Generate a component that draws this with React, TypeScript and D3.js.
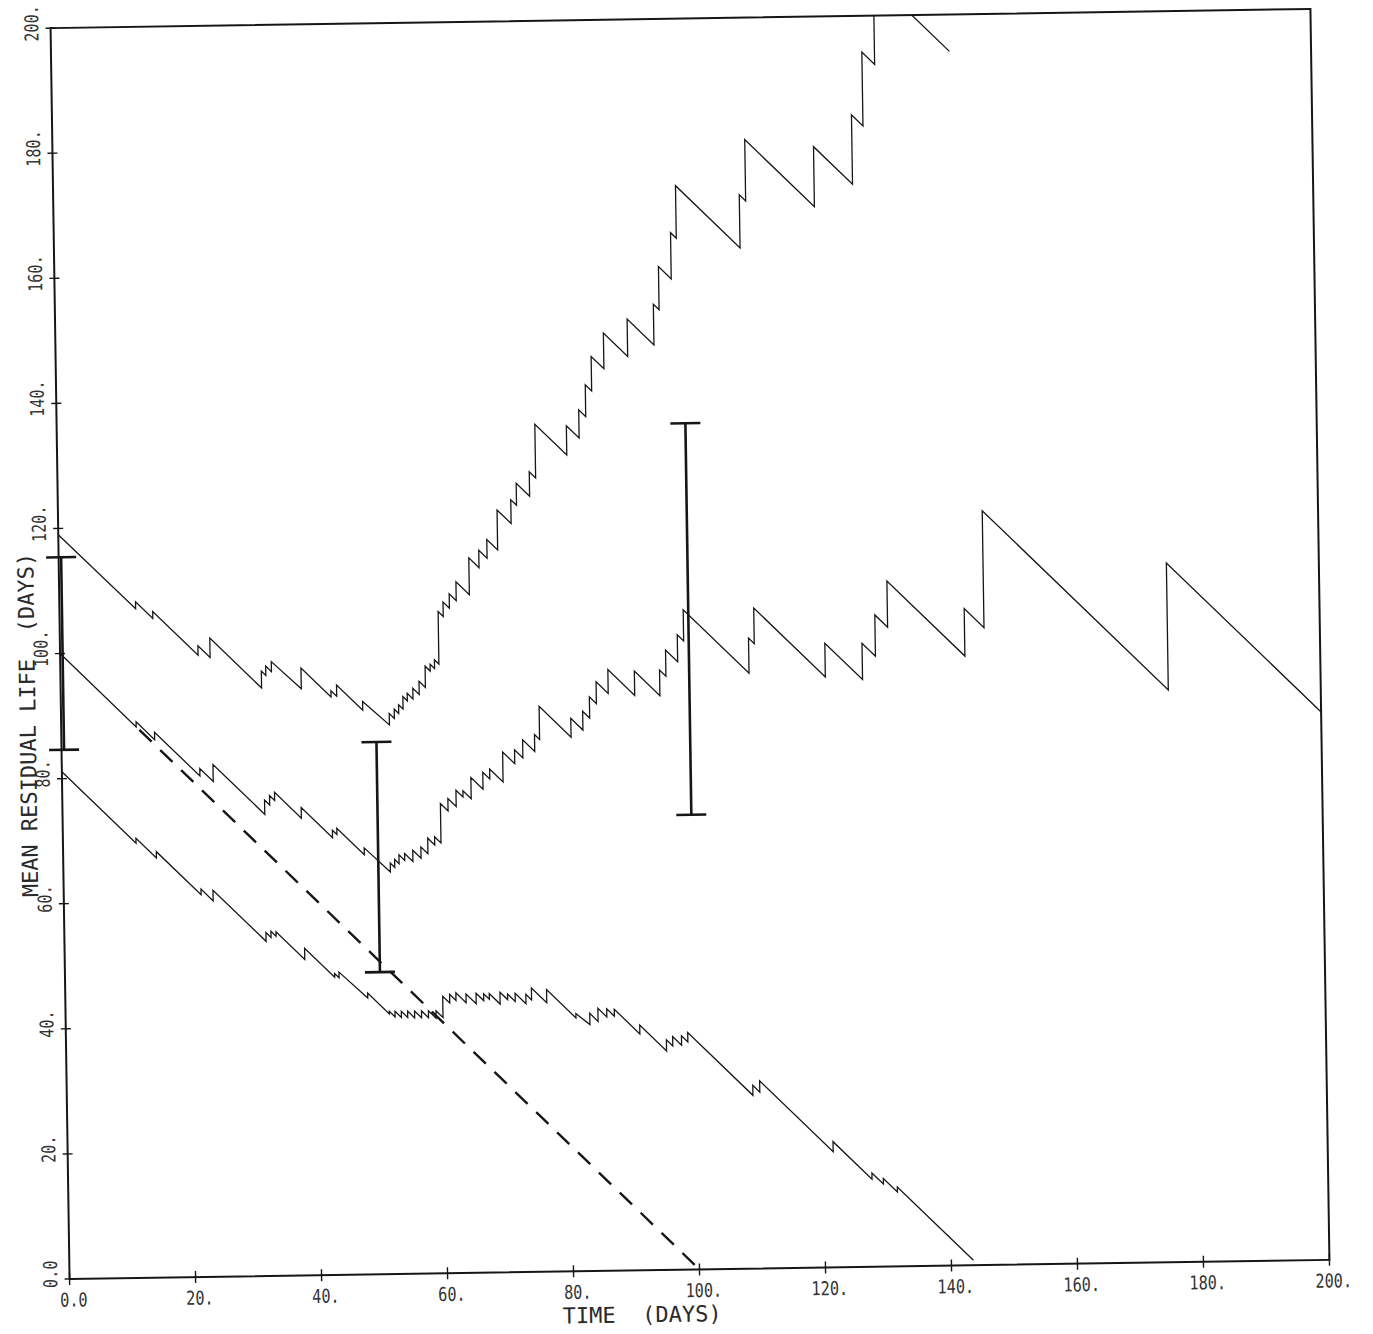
import * as d3 from 'd3'

type Pt = [number, number]

// upper curve (t, mean residual life); vertical pairs are the jumps
const upperCurve: Pt[] = [
  [0, 119], [12.1, 107.0], [12.1, 108.1], [14.8, 105.4], [14.8, 106.5],
  [21.9, 99.4], [21.9, 100.9], [23.8, 99.0], [23.8, 102.1], [31.9, 94.0], [31.9, 96.7],
  [32.6, 96.0], [32.6, 97.5], [33.5, 96.6], [33.5, 98.2], [38.2, 93.8], [38.2, 97.1],
  [42.9, 92.4], [42.9, 93.4], [43.8, 92.5], [43.8, 94.3], [47.9, 90.2], [47.9, 91.6],
  [52.1, 87.8], [52.1, 89.6], [52.9, 88.8], [52.9, 90.3], [53.6, 89.6], [53.6, 91.0],
  [54.3, 90.3], [54.3, 92.3], [55.0, 91.6], [55.0, 92.8], [55.9, 91.9], [55.9, 93.6],
  [56.9, 92.6], [56.9, 94.7], [57.9, 93.7], [57.9, 97.1], [58.7, 96.3], [58.7, 97.4],
  [59.4, 96.7], [59.4, 98.1], [60.1, 97.4], [60.1, 105.8], [60.9, 105.0], [60.9, 107.3],
  [61.9, 106.3], [61.9, 108.6], [63.0, 107.5], [63.0, 110.5], [65.1, 108.4], [65.1, 114.3],
  [66.7, 112.7], [66.7, 115.5], [68.0, 114.2], [68.0, 117.2], [69.7, 115.5], [69.7, 121.9],
  [71.9, 119.7], [71.9, 123.5], [72.8, 122.6], [72.8, 126.1], [74.9, 124.0], [74.9, 127.9],
  [75.9, 126.9], [75.9, 135.5], [80.9, 130.5], [80.9, 135.2], [82.9, 133.2], [82.9, 137.7],
  [84.0, 136.6], [84.0, 141.7], [85.0, 140.7], [85.0, 146.2], [87.0, 144.2], [87.0, 149.9],
  [90.8, 146.1], [90.8, 152.1], [95.0, 147.9], [95.0, 154.4], [95.9, 153.5], [95.9, 160.4],
  [97.9, 158.4], [97.9, 165.8], [98.8, 164.9], [98.8, 173.3], [108.9, 163.2], [108.9, 171.7],
  [109.9, 170.7], [109.9, 180.5], [120.8, 169.6], [120.8, 179.2], [126.9, 173.1], [126.9, 184.2],
  [128.7, 182.4], [128.7, 194.2], [130.7, 192.2], [130.7, 206.0], [142.6, 194.1],
]

const middleCurve: Pt[] = [
  [0, 100], [11.9, 88.1], [11.9, 88.9], [14.8, 86.0], [14.8, 87.2], [21.9, 80.1], [21.9, 81.3],
  [24.0, 79.2], [24.0, 81.9], [32.1, 73.8], [32.1, 76.1], [32.9, 75.3], [32.9, 76.8],
  [33.7, 76.0], [33.7, 77.3], [37.9, 73.1], [37.9, 74.8], [42.8, 69.9], [42.8, 71.1],
  [43.5, 70.4], [43.5, 71.4], [47.8, 67.1], [47.8, 68.2], [51.9, 64.3], [51.9, 65.7],
  [52.6, 65.0], [52.6, 66.3], [53.3, 65.6], [53.3, 67.0], [54.2, 66.1], [54.2, 67.2],
  [55.5, 65.9], [55.5, 67.7], [56.8, 66.4], [56.8, 68.2], [57.9, 67.1], [57.9, 69.6],
  [59.0, 68.5], [59.0, 69.8], [60.0, 68.8], [60.0, 75.1], [61.2, 73.9], [61.2, 75.9],
  [62.5, 74.6], [62.5, 77.2], [63.6, 76.1], [63.6, 77.1], [64.9, 75.8], [64.9, 79.2],
  [66.8, 77.3], [66.8, 80.0], [67.9, 78.9], [67.9, 80.5], [70.0, 78.4], [70.0, 83.2],
  [71.9, 81.3], [71.9, 83.5], [73.2, 82.2], [73.2, 85.1], [75.1, 83.2], [75.1, 85.9],
  [75.9, 85.1], [75.9, 90.4], [80.9, 85.4], [80.9, 88.4], [82.8, 86.5], [82.8, 89.5],
  [83.9, 88.4], [83.9, 91.8], [85.0, 90.7], [85.0, 94.2], [86.9, 92.3], [86.9, 96.1],
  [91.1, 91.9], [91.1, 95.8], [95.1, 91.8], [95.1, 95.9], [96.1, 94.9], [96.1, 99.1],
  [98.0, 97.2], [98.0, 101.5], [99.0, 100.5], [99.0, 105.5], [109.3, 95.2], [109.3, 100.8],
  [110.2, 99.9], [110.2, 105.6], [121.4, 94.4], [121.4, 99.8], [127.3, 93.9], [127.3, 99.7],
  [129.4, 97.6], [129.4, 104.2], [131.4, 102.2], [131.4, 109.6], [143.6, 97.4], [143.6, 105.0],
  [146.7, 101.9], [146.7, 120.6], [175.8, 91.5], [175.8, 111.8], [200, 87.6],
]

const lowerCurve: Pt[] = [
  [0, 81.1], [11.6, 69.5], [11.6, 70.3], [14.8, 67.1], [14.8, 68.1], [21.8, 61.1], [21.8, 62.0],
  [23.7, 60.1], [23.7, 61.8], [32.0, 53.5], [32.0, 54.9], [32.8, 54.1], [32.8, 55.1],
  [33.6, 54.3], [33.6, 55.0], [38.1, 50.5], [38.1, 52.3], [42.8, 47.6], [42.8, 48.2],
  [43.5, 47.5], [43.5, 48.4], [48.0, 44.2], [48.0, 45.0], [51.4, 41.6], [51.4, 42.0],
  [52.3, 41.1], [52.3, 42.0], [53.3, 41.0], [53.3, 42.0], [54.3, 41.0], [54.3, 42.0],
  [55.4, 40.9], [55.4, 42.0], [56.5, 40.9], [56.5, 42.0], [57.6, 40.9], [57.6, 42.0],
  [58.8, 40.8], [58.8, 42.0], [59.9, 40.9], [59.9, 44.3], [61.0, 43.2], [61.0, 44.6],
  [62.0, 43.6], [62.0, 44.8], [63.6, 43.2], [63.6, 44.6], [65.2, 43.0], [65.2, 44.7],
  [66.4, 43.5], [66.4, 44.6], [67.3, 43.7], [67.3, 44.6], [69.0, 42.9], [69.0, 44.8],
  [70.2, 43.6], [70.2, 44.5], [71.4, 43.3], [71.4, 44.6], [73.1, 42.9], [73.1, 44.4],
  [74.0, 43.5], [74.0, 45.4], [76.4, 43.0], [76.4, 45.1], [81.0, 40.5], [81.0, 41.2],
  [83.2, 39.4], [83.2, 41.2], [84.5, 39.9], [84.5, 42.0], [85.9, 40.6], [85.9, 41.9],
  [87.1, 40.7], [87.1, 41.8], [91.1, 37.8], [91.1, 39.2], [95.3, 35.0], [95.3, 36.8],
  [96.3, 35.8], [96.3, 37.3], [97.7, 35.9], [97.7, 37.4], [98.7, 36.4], [98.7, 37.9],
  [108.9, 27.7], [108.9, 29.3], [110.0, 28.2], [110.0, 30.0], [121.5, 18.5], [121.5, 20.1],
  [127.6, 14.0], [127.6, 15.0], [129.4, 13.2], [129.4, 14.1], [131.6, 11.9], [131.6, 12.7],
  [143.5, 0.8],
]

const dashedLine: Pt[] = [[12.4, 87.6], [100, 0]]

const errorBarT = [0.4, 50, 99.8]
const errorBarLow = [84.6, 48.3, 72.7]
const errorBarHigh = [115.4, 85.1, 135.3]

const xTicks = [0, 20, 40, 60, 80, 100, 120, 140, 160, 180, 200]
const xTickLabels = ['0.0', '20.', '40.', '60.', '80.', '100.', '120.', '140.', '160.', '180.', '200.']
const yTicks = [0, 20, 40, 60, 80, 100, 120, 140, 160, 180, 200]
const yTickLabels = ['0.0', '20.', '40.', '60.', '80.', '100.', '120.', '140.', '160.', '180.', '200.']

const W = 1373
const H = 1334
const frame = { left: 60, right: 1320, top: 18.5, bottom: 1269.5 }
// the scanned sheet sits slightly askew
const tilt = -0.87
const ink = '#161616'
const font = '"DejaVu Sans Mono", "Liberation Mono", monospace'

export default function App() {
  const x = d3.scaleLinear().domain([0, 200]).range([frame.left, frame.right])
  const y = d3.scaleLinear().domain([0, 200]).range([frame.bottom, frame.top])
  const line = d3.line<Pt>().x((d) => x(d[0])).y((d) => y(d[1]))
  const cx = (frame.left + frame.right) / 2
  const cy = (frame.top + frame.bottom) / 2

  return (
    <svg
      width={W}
      height={H}
      style={{ position: 'absolute', left: 0, top: 0, background: '#fff' }}
    >
      <defs>
        <clipPath id="plotArea">
          <rect x={frame.left} y={frame.top} width={frame.right - frame.left} height={frame.bottom - frame.top} />
        </clipPath>
      </defs>
      <g transform={`rotate(${tilt} ${cx} ${cy})`}>
        <rect
          x={frame.left}
          y={frame.top}
          width={frame.right - frame.left}
          height={frame.bottom - frame.top}
          fill="none"
          stroke={ink}
          strokeWidth={2}
        />

        {xTicks.map((t, i) => (
          <g key={'xt' + t}>
            <line x1={x(t)} x2={x(t)} y1={frame.bottom - 6} y2={frame.bottom + 6} stroke={ink} strokeWidth={1.4} />
            <text
              transform={`translate(${x(t) + 4},${frame.bottom + 21}) scale(0.8,1)`}
              textAnchor="middle"
              dominantBaseline="central"
              fontFamily={font}
              fontSize={19}
              fill="#333"
            >
              {xTickLabels[i]}
            </text>
          </g>
        ))}

        {yTicks.map((v, i) => (
          <g key={'yt' + v}>
            <line x1={frame.left - 5} x2={frame.left + 5} y1={y(v)} y2={y(v)} stroke={ink} strokeWidth={1.4} />
            <text
              transform={`translate(${frame.left - 19},${y(v) - 5}) rotate(-90) scale(0.8,1)`}
              textAnchor="middle"
              dominantBaseline="central"
              fontFamily={font}
              fontSize={19}
              fill="#333"
            >
              {yTickLabels[i]}
            </text>
          </g>
        ))}

        <text
          x={632}
          y={1314}
          textAnchor="middle"
          dominantBaseline="central"
          fontFamily={font}
          fontSize={22}
          fill="#2a2a2a"
          style={{ whiteSpace: 'pre' }}
        >
          {'TIME  (DAYS)'}
        </text>
        <text
          transform="translate(27,715) rotate(-90)"
          textAnchor="middle"
          dominantBaseline="central"
          fontFamily={font}
          fontSize={22}
          fill="#2a2a2a"
          style={{ whiteSpace: 'pre' }}
        >
          {'MEAN RESIDUAL LIFE  (DAYS)'}
        </text>

        <g clipPath="url(#plotArea)" fill="none" stroke={ink} strokeLinejoin="miter">
          <path d={line(upperCurve) ?? ''} strokeWidth={1.3} />
          <path d={line(middleCurve) ?? ''} strokeWidth={1.3} />
          <path d={line(lowerCurve) ?? ''} strokeWidth={1.3} />
          <path d={line(dashedLine) ?? ''} strokeWidth={2.4} strokeDasharray="17 12" />
        </g>

        {errorBarT.map((t, i) => (
          <g key={'eb' + i} stroke={ink} strokeWidth={2.6}>
            <line x1={x(t)} x2={x(t)} y1={y(errorBarLow[i])} y2={y(errorBarHigh[i])} />
            <line x1={x(t) - 15} x2={x(t) + 15} y1={y(errorBarLow[i])} y2={y(errorBarLow[i])} />
            <line x1={x(t) - 15} x2={x(t) + 15} y1={y(errorBarHigh[i])} y2={y(errorBarHigh[i])} />
          </g>
        ))}
      </g>
    </svg>
  )
}
